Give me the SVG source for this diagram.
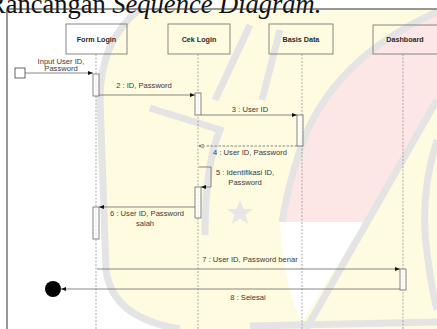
<svg xmlns="http://www.w3.org/2000/svg" width="437" height="329" viewBox="0 0 437 329">
<defs>
<style>
.head{fill:none;stroke:#7a7a7a;stroke-width:0.9}
.hl{font-family:"Liberation Sans",Arial,sans-serif;font-size:7.2px;font-weight:bold;fill:#2a2a2a;text-anchor:middle}
.lbl{font-family:"Liberation Sans",Arial,sans-serif;font-size:7.6px;fill:#3a3a3a;text-anchor:middle}
.life{stroke:#8a8a8a;stroke-width:0.7;stroke-dasharray:2,1.5;fill:none}
.act{fill:#ffffff;fill-opacity:0.7;stroke:#6a6a6a;stroke-width:0.8}
.msg{stroke:#6a6a6a;stroke-width:0.8;fill:none;marker-end:url(#af)}
.ret{stroke:#6a6a6a;stroke-width:0.8;fill:none;stroke-dasharray:2.5,1.5;marker-end:url(#ao)}
.wm{fill:none;stroke:#e4e4e4;stroke-width:7}
</style>
<marker id="af" viewBox="0 0 6 6" refX="6" refY="3" markerWidth="5" markerHeight="5" markerUnits="userSpaceOnUse" orient="auto">
<path d="M0,0.6 L6,3 L0,5.4 Z" fill="#111"/>
</marker>
<marker id="ao" viewBox="0 0 6 6" refX="6" refY="3" markerWidth="5" markerHeight="5" markerUnits="userSpaceOnUse" orient="auto">
<path d="M0,0.6 L6,3 L0,5.4" fill="none" stroke="#555" stroke-width="0.8"/>
</marker>
</defs>
<rect x="0" y="0" width="437" height="329" fill="#ffffff"/>
<g id="watermark">
<path d="M140,9 L437,9 L437,329 L180,329 Q110,318 106,270 L100,100 Q100,40 140,9 Z" fill="#fefbe1"/>
<path d="M437,12 Q330,60 300,150 Q285,195 280,222 L368,222 L437,105 Z" fill="#fde6e6"/>
<path d="M280,222 L364,222 L302,322 Q284,290 280,222 Z" fill="#ffffff"/>
<path class="wm" d="M140,9 Q100,40 100,100 L106,270 Q112,318 180,329"/>
<path class="wm" d="M437,12 Q330,60 300,150 Q287,190 282,222"/>
<path class="wm" d="M437,100 L306,329"/>
<path class="wm" d="M437,140 Q418,200 428,260 Q432,290 437,310"/>
<path class="wm" d="M250,326 L437,322"/>
<path class="wm" d="M150,108 L220,130 Q205,165 205,235"/>
<path class="wm" stroke-width="5" d="M215,100 L250,25 M262,100 L280,30"/>
<polygon points="240,200 243.5,209 253,209 245.5,215 248.5,224 240,218.5 231.5,224 234.5,215 227,209 236.5,209" fill="#e6e6e6"/>
</g>
<text x="-12" y="13" font-family="'Liberation Serif','Times New Roman',serif" font-size="26.5" fill="#111">Rancangan <tspan font-style="italic">Sequence Diagram.</tspan></text>
<rect x="7" y="9" width="440" height="330" fill="none" stroke="#333" stroke-width="1"/>
<g id="lifelines">
<line class="life" x1="96" y1="54" x2="96" y2="329"/>
<line class="life" x1="198" y1="54" x2="198" y2="329"/>
<line class="life" x1="302" y1="54" x2="302" y2="329"/>
<line class="life" x1="403" y1="54" x2="403" y2="329"/>
</g>
<g id="node-form-login">
<rect class="head" x="66" y="24" width="61" height="30" fill="#ffffff"/>
<text class="hl" x="96.5" y="41.5">Form Login</text>
</g>
<g id="node-cek-login">
<rect class="head" x="168" y="24" width="62" height="30"/>
<text class="hl" x="199" y="41.5">Cek Login</text>
</g>
<g id="node-basis-data">
<rect class="head" x="269" y="24" width="64" height="30"/>
<text class="hl" x="301" y="41.5">Basis Data</text>
</g>
<g id="node-dashboard">
<rect class="head" x="373" y="25" width="65" height="29"/>
<text class="hl" x="405" y="41.5">Dashboard</text>
</g>
<g id="node-start">
<rect x="15" y="68" width="10" height="10" fill="#ffffff" stroke="#555" stroke-width="0.9"/>
</g>
<g id="node-end">
<circle cx="53" cy="289" r="8" fill="#000"/>
</g>
<g id="activations">
<rect class="act" x="93" y="74" width="6" height="22"/>
<rect class="act" x="195" y="93" width="6" height="22"/>
<rect class="act" x="297" y="115" width="6" height="31"/>
<rect class="act" x="195" y="187" width="6" height="31"/>
<rect class="act" x="93" y="207" width="6" height="32"/>
<rect class="act" x="400" y="269" width="6" height="21"/>
</g>
<g id="connectors">
<path class="msg" d="M25,73 L93,73"/>
<path class="msg" d="M99,95 L195,95"/>
<path class="msg" d="M201,115 L297,115"/>
<path class="ret" d="M297,146 L199,146"/>
<path class="msg" d="M199,167 L211,167 L211,187 L201,187"/>
<path class="msg" d="M195,207 L99,207"/>
<path class="msg" d="M97,269 L400,269"/>
<path class="msg" d="M400,289 L61,289"/>
</g>
<g id="labels">
<text class="lbl" x="61" y="63.5">Input User ID,</text>
<text class="lbl" x="61" y="71">Password</text>
<text class="lbl" x="144" y="88">2 : ID, Password</text>
<text class="lbl" x="250" y="112">3 : User ID</text>
<text class="lbl" x="250" y="155">4 : User ID, Password</text>
<text class="lbl" x="245" y="175">5 : Identifikasi ID,</text>
<text class="lbl" x="245" y="185">Password</text>
<text class="lbl" x="147" y="216">6 : User ID, Password</text>
<text class="lbl" x="145" y="226">salah</text>
<text class="lbl" x="250" y="262">7 : User ID, Password benar</text>
<text class="lbl" x="248" y="300">8 : Selesai</text>
</g>
</svg>
